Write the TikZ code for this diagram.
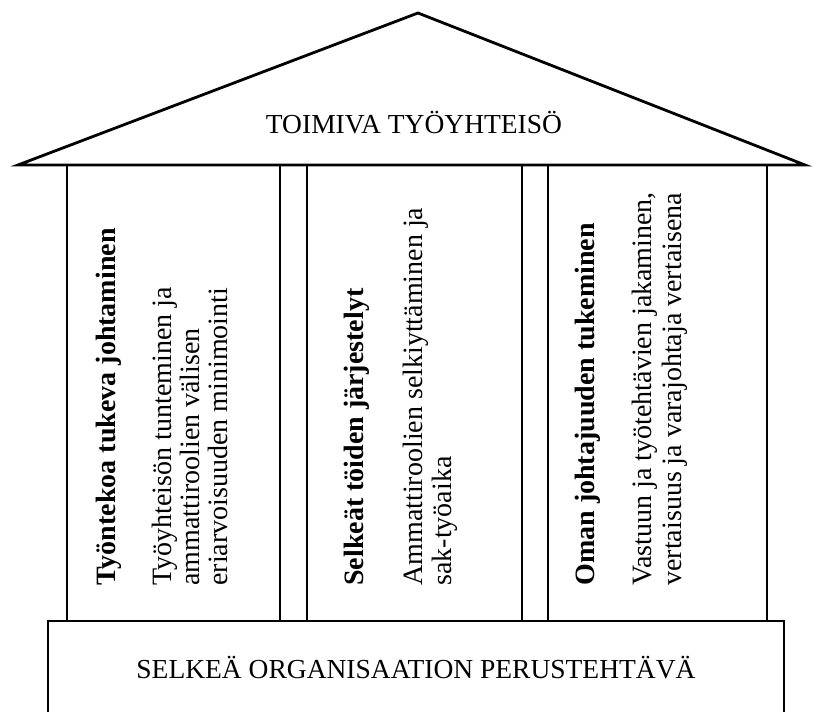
\documentclass[tikz,border=0pt]{standalone}
\usepackage{fontspec}
\setmainfont{Liberation Serif}
\usepackage{tikz}

\begin{document}
\begin{tikzpicture}[x=1pt,y=-1pt,
  line width=2.8pt,
  roof/.style={
    draw,
    line join=miter
  },
  pillar/.style={
    draw
  },
  caption/.style={
    anchor=base,
    inner sep=0pt,
    font=\fontsize{27.5}{33}\selectfont
  },
  title/.style={
    anchor=base west,
    rotate=90,
    inner sep=0pt,
    font=\fontsize{28}{34}\selectfont\bfseries
  },
  body/.style={
    anchor=base west,
    rotate=90,
    inner sep=0pt,
    font=\fontsize{28}{34}\selectfont
  }
  ]

  \pgfmathsetmacro{\yr}{165}
  \pgfmathsetmacro{\yb}{621}
  \pgfmathsetmacro{\ys}{587}

  \clip (0,0) rectangle (815,712);

  % katto
  \draw [roof] (18,\yr) -- (418,13) -- (805,\yr) -- cycle;
  \node [caption] (roof) at (414,133) {TOIMIVA TYÖYHTEISÖ};

  % pilarit
  \draw [pillar] (67,\yr) rectangle (280,\yb);
  \draw [pillar] (307,\yr) rectangle (522,\yb);
  \draw [pillar] (548,\yr) rectangle (767,\yb);

  % perusta
  \draw [pillar] (48,\yb) rectangle (784,740);
  \node [caption] (base) at (416,678) {SELKEÄ ORGANISAATION PERUSTEHTÄVÄ};

  \node [title] (lead) at (115,\ys) {Työntekoa tukeva johtaminen};
  \node [body] (leada) at (171,\ys) {Työyhteisön tunteminen ja};
  \node [body] (leadb) at (199,\ys) {ammattiroolien välisen};
  \node [body] (leadc) at (227,\ys) {eriarvoisuuden minimointi};

  \node [title] (work) at (363,\ys) {Selkeät töiden järjestelyt};
  \node [body] (worka) at (422,\ys) {Ammattiroolien selkiyttäminen ja};
  \node [body] (workb) at (451,\ys) {sak-työaika};

  \node [title] (own) at (594,\ys) {Oman johtajuuden tukeminen};
  \node [body] (owna) at (651,\ys) {Vastuun ja työtehtävien jakaminen,};
  \node [body] (ownb) at (681,\ys) {vertaisuus ja varajohtaja vertaisena};

\end{tikzpicture}
\end{document}
